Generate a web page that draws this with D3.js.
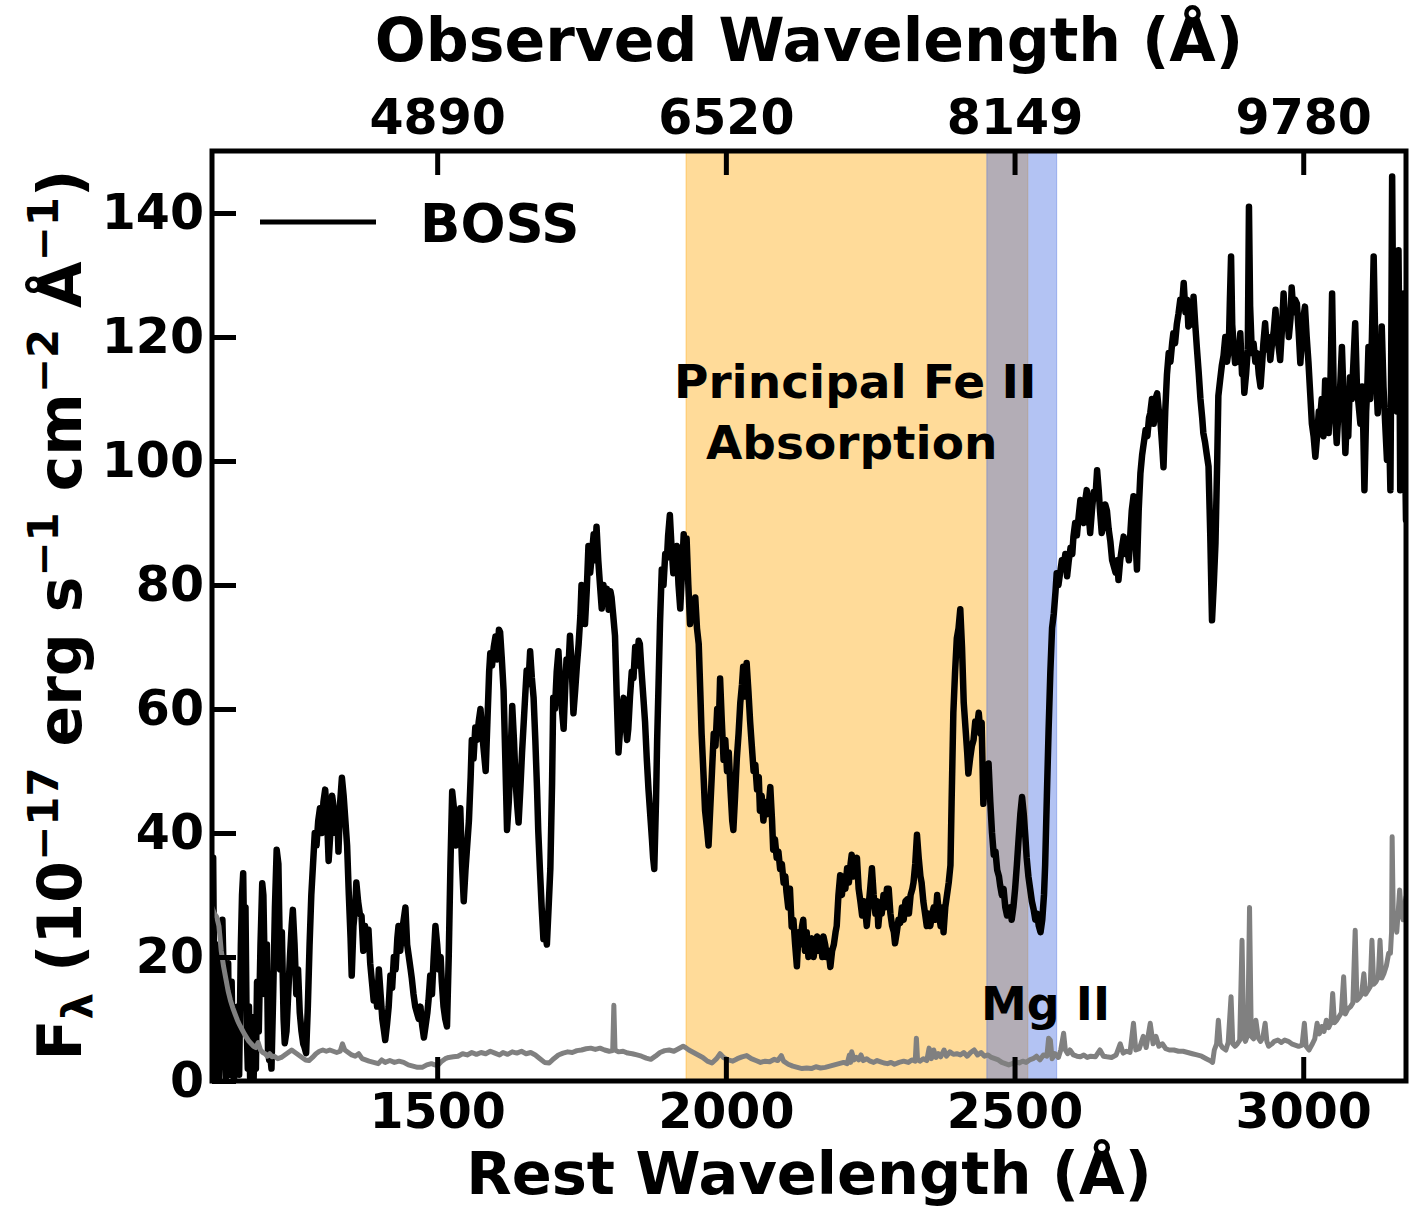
<!DOCTYPE html>
<html>
<head>
<meta charset="utf-8">
<script src="https://cdn.jsdelivr.net/npm/d3@7"></script>
<style>
  body { margin: 0; background: #fff; }
  text { font-family: 'DejaVu Sans', sans-serif; font-weight: bold; white-space: pre; }
</style>
</head>
<body>
<svg id="chart" width="1414" height="1211"></svg>
<script>
// ---------------- data ----------------
const restRange = [1110, 3178];
const fluxRange = [0, 150];
const restTicks = [1500, 2000, 2500, 3000];
const observedTickLabels = ["4890", "6520", "8149", "9780"];
const fluxTicks = [0, 20, 40, 60, 80, 100, 120, 140];
const feIIRegion = [1931, 2523];
const mgIIRegion = [2452, 2573];

// BOSS spectrum: [rest wavelength (Å), flux]
const bossSpectrum = [
[1110,30],[1112,36],[1114,12],[1116,0.5],[1118,22],[1120,8],[1122,0],[1124,15],[1126,3],[1128,26],
[1130,18],[1132,6],[1134,0.5],[1136,14],[1138,19],[1140,1],[1142,8],[1144,16],[1146,4],[1148,0],
[1150,10],[1152,3],[1155,12],[1157,1],[1160,22],[1162,30],[1164,33.5],[1166,20],[1168,28],[1170,9],
[1172,2],[1174,12],[1176,0.5],[1178,6],[1180,10.3],[1182,0],[1184,8],[1186,2],[1188,16],[1191,8],
[1194,22],[1197,31.9],[1199,30],[1202,14],[1205,22],[1207,5],[1209,3.4],[1211,4],[1213,2],[1216,14],
[1219,28],[1222,37.3],[1225,35],[1228,18],[1231,24],[1234,10],[1236,6.1],[1239,8],[1242,14],[1245,20],
[1248,25],[1250,27.6],[1253,22],[1256,14],[1259,18],[1262,11],[1265,8],[1268,6],[1270,5.5],[1273,4.5],
[1276,12],[1279,22],[1282,30],[1285,35],[1288,40],[1291,38],[1294,42],[1297,44],[1300,40],[1303,45],
[1306,47],[1309,43],[1312,35.5],[1315,40],[1318,46],[1321,44],[1324,40],[1327,43],[1329,37],[1332,45],
[1335,48.9],[1338,46],[1341,42],[1344,38],[1347,30],[1350,23],[1352,17],[1355,25],[1358,28],[1360,32],
[1363,29],[1366,27],[1369,26.6],[1372,21],[1375,25],[1378,22],[1381,24.4],[1384,19],[1387,16],[1390,13],
[1393,15],[1396,12],[1399,18],[1402,14],[1405,10],[1408,8],[1410,6.6],[1413,9],[1416,12],[1419,17],
[1422,15],[1425,20],[1428,18],[1431,23],[1433,25],[1436,21],[1439,24],[1442,26],[1445,28],[1448,22],
[1451,20],[1454,18],[1456,16.6],[1459,14],[1462,12],[1465,11],[1468,10],[1471,12],[1474,9],[1477,7],
[1480,9],[1483,11],[1485,13],[1488,17],[1491,14],[1494,20],[1497,25],[1500,22],[1503,18],[1506,20],
[1508,16],[1511,12],[1514,10],[1517,8.8],[1520,20],[1523,35],[1526,46.7],[1529,44],[1532,38],[1535,42],
[1538,40],[1540,44],[1543,35],[1546,29],[1549,34],[1552,38],[1555,42],[1558,49],[1560,55],[1563,52],
[1566,57],[1569,55],[1572,58],[1575,60],[1578,56],[1581,53],[1584,50],[1587,58],[1590,66],[1592,69],
[1595,67],[1598,70],[1601,71.7],[1604,68],[1607,72.8],[1609,72.4],[1612,68],[1615,63],[1618,52],[1621,40.5],
[1624,45],[1627,52],[1630,60.5],[1633,55],[1636,48],[1639,44],[1641,41.7],[1644,47],[1647,53],[1650,58],
[1653,63],[1655,66.2],[1658,64],[1661,69.3],[1664,65],[1667,61.8],[1670,55],[1673,47],[1675,40.5],[1678,34],
[1681,28],[1684,22.9],[1687,24],[1690,22],[1693,28],[1696,34.2],[1699,48],[1701,61.8],[1704,60],[1707,66],
[1710,69.3],[1713,64],[1716,60],[1719,56.8],[1722,64],[1724,68],[1727,66],[1730,71.8],[1733,67],[1736,59.3],
[1739,63],[1742,67],[1745,70.5],[1748,75],[1750,80],[1753,77],[1756,73.7],[1759,79],[1762,86.3],[1765,82],
[1768,85],[1771,88.2],[1773,84],[1776,89.4],[1779,84],[1782,80],[1785,76.2],[1788,80],[1791,77],[1794,79.4],
[1797,76],[1800,79],[1802,78],[1805,75],[1808,71.8],[1811,62],[1814,53],[1817,57],[1820,60],[1823,61.8],
[1826,58],[1829,55],[1831,56.8],[1834,62],[1837,66],[1840,65],[1843,70],[1846,67],[1849,71],[1851,70.5],
[1854,66],[1857,62],[1860,58],[1863,52],[1866,47],[1869,43],[1872,39],[1874,36],[1876,34.2],[1879,45],
[1881,55],[1883,62.4],[1886,74],[1889,82.5],[1892,80],[1895,85],[1898,84.4],[1900,88],[1903,91.3],[1906,86],
[1909,81.9],[1912,84],[1915,86.3],[1918,80],[1921,76.2],[1924,82],[1927,88.2],[1930,84],[1932,87.5],[1935,80],
[1938,73.7],[1941,77],[1944,75],[1947,78],[1950,73],[1953,70.5],[1956,62],[1958,56],[1961,50],[1964,43.6],
[1967,41],[1970,38],[1973,44],[1976,50],[1979,56],[1982,54],[1985,60],[1988,58],[1990,64.9],[1993,58],
[1996,51.8],[1999,55],[2002,50],[2005,53],[2008,47],[2011,42],[2013,40.5],[2016,46],[2019,52],[2022,56],
[2025,61],[2028,64],[2030,66.8],[2033,62],[2036,67.4],[2039,63],[2042,58],[2045,54],[2048,50],[2051,51],
[2054,47],[2057,49],[2059,43.6],[2062,46],[2065,42],[2068,45],[2071,43],[2074,44],[2077,47.4],[2080,42],
[2082,37.3],[2085,39],[2088,36],[2091,37],[2094,34.2],[2097,35],[2100,32],[2103,33],[2105,30.5],[2108,28],
[2111,31],[2114,24.9],[2117,26],[2120,22],[2123,18.5],[2126,24],[2129,22],[2132,25],[2134,26],[2137,21],
[2140,24],[2143,20],[2146,21.6],[2149,23],[2152,20],[2155,22],[2158,23.3],[2161,21],[2164,23],[2167,20],
[2169,23.3],[2172,22],[2175,20],[2178,21],[2181,18.4],[2184,21],[2187,22],[2190,24],[2192,25],[2195,30],
[2198,33.2],[2201,30],[2204,33],[2207,31],[2210,34.3],[2213,32],[2216,35],[2218,36.5],[2221,33],[2224,35],
[2227,36],[2230,31],[2233,29],[2236,26.7],[2239,29],[2242,27],[2244,25],[2247,28],[2250,31],[2253,34.3],
[2256,30],[2259,27],[2262,29],[2264,25],[2267,28],[2270,27],[2273,30],[2276,28],[2279,31],[2282,31],
[2285,27],[2288,25],[2291,24],[2293,22.2],[2296,24],[2299,26],[2302,25.5],[2305,28],[2308,26],[2311,29],
[2314,29.3],[2317,27],[2320,30],[2323,31],[2325,32],[2328,35],[2331,39.7],[2334,36],[2337,33],[2339,32],
[2342,29],[2345,27],[2348,25],[2351,27],[2354,25],[2357,26.7],[2360,28],[2363,26],[2366,30],[2369,27],
[2372,25],[2375,28],[2377,24],[2380,28],[2383,30],[2386,32],[2389,34.8],[2391,45],[2394,59.4],[2397,66],
[2400,71.4],[2403,73],[2406,76.1],[2409,70],[2412,61],[2415,57],[2418,53],[2420,49.6],[2423,52],[2426,54],
[2429,55],[2432,58],[2435,57],[2438,59.4],[2441,56],[2443,57.8],[2446,44.7],[2449,50],[2452,49],[2455,51.2],
[2458,45],[2461,40],[2464,36.5],[2467,37],[2470,34],[2473,33],[2475,31.6],[2478,30],[2481,31],[2484,28],
[2487,26.7],[2490,27],[2493,28],[2495,26],[2498,28],[2501,31],[2504,34.8],[2507,39],[2510,43],[2513,45.8],
[2516,43],[2519,39],[2521,36],[2524,33],[2527,31],[2530,29],[2533,27.7],[2536,26],[2539,27],[2542,25],
[2545,24],[2548,26],[2551,30],[2553,34.8],[2556,46],[2559,56.7],[2562,66],[2565,73.1],[2568,75.4],[2571,79],
[2573,81.9],[2576,80],[2579,82],[2582,84],[2585,83],[2588,85],[2591,81.4],[2594,84],[2597,86],[2600,85],
[2602,87.8],[2605,90],[2608,88],[2611,91],[2614,93.7],[2617,92],[2620,90],[2623,94],[2625,95.3],[2628,92],
[2631,88.4],[2634,92],[2637,95],[2640,94],[2643,98.5],[2646,95],[2648,92],[2651,88.4],[2654,90],[2657,93],
[2660,92],[2663,89],[2666,87],[2669,84],[2672,83],[2675,82],[2678,84],[2680,80.8],[2683,84],[2686,86],
[2689,87.8],[2692,85],[2695,86],[2698,84],[2701,89],[2703,92],[2706,94.3],[2709,88],[2712,82.5],[2715,92],
[2718,98],[2721,101],[2724,103],[2727,105],[2730,104],[2733,107],[2735,107.7],[2738,110],[2741,106],[2744,110],
[2747,110.9],[2750,108],[2753,106],[2756,102],[2758,99],[2761,108],[2764,114],[2767,117.4],[2770,116],[2773,119],
[2775,120.6],[2778,119],[2781,122],[2784,123.8],[2787,126],[2790,125],[2793,128.7],[2796,124],[2799,126],[2801,121.7],
[2804,124],[2807,122],[2810,126.5],[2813,122],[2816,118],[2819,114.2],[2822,110],[2825,107],[2827,104.5],[2830,103],
[2833,101],[2836,99.1],[2839,88],[2842,74.3],[2845,80],[2848,86.7],[2851,100],[2853,110.5],[2856,113],[2859,115.4],
[2862,117],[2865,120],[2868,116],[2871,118],[2873,126],[2875,133],[2877,122],[2880,118],[2882,115.8],[2885,117],
[2888,116],[2891,120.6],[2894,114],[2896,116],[2898,111],[2901,114],[2904,118],[2906,141],[2908,125],[2911,117.4],
[2914,119],[2917,116],[2920,117.4],[2923,114],[2926,112],[2929,116],[2931,119],[2934,122.2],[2937,118],[2940,120],
[2943,116.3],[2946,119],[2949,121],[2952,124.4],[2955,120],[2958,118],[2960,116.3],[2963,121],[2966,127],[2969,122],
[2972,124],[2975,120],[2978,123],[2980,128],[2983,124],[2986,126],[2989,125.4],[2992,121],[2995,115.8],[2998,120],
[3000,123],[3003,124.9],[3006,120],[3009,116],[3012,111],[3015,106],[3018,104],[3021,100.7],[3024,104],[3027,108],
[3029,106.6],[3032,110],[3035,104],[3038,113],[3041,108],[3044,104.5],[3047,112],[3050,127],[3053,110],[3056,106],
[3058,102.9],[3061,108],[3064,112],[3067,118.4],[3070,110],[3073,101.3],[3076,108],[3078,104],[3081,113.5],[3084,110],
[3087,116],[3090,122.2],[3093,112],[3096,109],[3099,106],[3102,112],[3104,105],[3106,95.3],[3109,108],[3111,112],
[3113,118.4],[3116,110],[3119,120],[3122,133],[3125,118],[3127,112],[3129,107.7],[3132,114],[3134,110],[3136,121.7],
[3139,112],[3142,106],[3145,100.2],[3148,108],[3151,95.3],[3152,110],[3154,145.9],[3156,120],[3159,116.3],[3162,108],
[3165,134],[3167,112],[3168,95.3],[3170,118],[3172,110],[3174,127],[3176,104],[3178,90.5]
];

// Flux error spectrum: [rest wavelength (Å), error]
const bossError = [
[1110,28],[1114,27],[1118,26.5],[1122,25],[1126,21],[1130,18.5],[1134,16.5],[1138,14.5],[1142,13],[1146,11.8],
[1150,10.8],[1154,9.8],[1158,9],[1162,8.3],[1166,7.6],[1170,7],[1174,6.4],[1178,6.0],[1182,5.6],[1186,5.4],
[1190,6.2],[1194,5.0],[1198,4.6],[1202,4.4],[1206,4.0],[1210,4.4],[1214,3.9],[1218,4.0],[1224,3.6],[1230,3.8],
[1236,4.2],[1242,4.6],[1248,5.0],[1254,4.6],[1260,4.2],[1266,3.8],[1272,3.4],[1278,3.3],[1284,3.8],[1290,4.4],
[1296,4.8],[1302,5.0],[1308,4.8],[1314,5.0],[1320,4.8],[1326,4.6],[1332,4.8],[1336,6.0],[1340,5.0],[1346,4.6],
[1352,4.2],[1358,4.0],[1364,4.4],[1370,3.6],[1376,3.4],[1382,3.2],[1390,3.0],[1398,2.8],[1404,3.4],[1410,3.0],
[1418,3.3],[1426,3.0],[1434,3.2],[1442,3.0],[1450,2.6],[1458,2.4],[1466,2.2],[1474,2.2],[1482,2.6],[1490,2.8],
[1496,2.6],[1502,2.6],[1508,3.2],[1514,3.6],[1520,3.8],[1528,3.9],[1536,4.0],[1544,4.4],[1552,4.2],[1560,4.6],
[1568,4.3],[1576,4.6],[1584,4.4],[1592,4.8],[1600,4.5],[1608,4.2],[1614,4.6],[1622,4.3],[1630,4.7],[1638,4.5],
[1646,4.8],[1654,4.4],[1662,4.6],[1670,4.2],[1678,3.6],[1686,3.0],[1694,2.9],[1702,3.6],[1710,4.2],[1718,4.5],
[1726,4.7],[1734,4.6],[1742,4.9],[1750,5.0],[1758,5.2],[1766,5.3],[1774,5.1],[1782,5.3],[1790,5.0],[1798,4.8],
[1804,4.9],[1806,12.2],[1808,5.0],[1814,4.7],[1822,4.8],[1830,4.5],[1838,4.4],[1846,4.2],[1854,4.0],[1862,3.7],
[1870,3.5],[1878,4.0],[1886,4.6],[1894,4.9],[1902,5.0],[1910,4.8],[1918,5.2],[1926,5.6],[1930,5.4],[1936,5.0],
[1944,4.6],[1952,4.2],[1960,3.8],[1968,3.2],[1976,2.9],[1984,3.6],[1990,4.4],[1996,3.8],[2004,3.4],[2012,3.2],
[2020,3.6],[2028,3.9],[2036,4.1],[2044,3.6],[2052,3.3],[2060,3.0],[2068,3.2],[2076,3.1],[2084,3.5],[2090,3.3],
[2096,4.1],[2100,3.2],[2108,2.7],[2116,2.4],[2124,2.2],[2132,2.0],[2140,2.1],[2148,2.0],[2156,2.3],[2164,2.1],
[2172,2.2],[2180,2.4],[2188,2.6],[2196,2.8],[2204,3.0],[2210,2.8],[2214,4.2],[2216,3.0],[2218,4.7],[2222,3.4],
[2226,3.8],[2230,3.4],[2234,4.2],[2238,3.3],[2244,3.6],[2250,3.2],[2256,3.0],[2262,3.3],[2268,3.1],[2274,2.9],
[2280,2.8],[2286,3.0],[2292,2.7],[2300,3.0],[2308,3.2],[2316,3.0],[2322,3.4],[2328,3.2],[2330,6.9],[2332,3.4],
[2336,3.2],[2342,3.6],[2348,3.3],[2352,5.3],[2356,3.6],[2360,5.0],[2364,3.8],[2368,4.4],[2372,3.9],[2378,5.0],
[2382,4.0],[2388,4.7],[2394,4.3],[2400,4.4],[2406,4.2],[2412,4.6],[2418,4.0],[2424,4.6],[2430,5.0],[2436,4.2],
[2442,4.6],[2448,4.0],[2454,4.2],[2460,3.8],[2466,3.6],[2472,3.4],[2478,3.0],[2484,2.8],[2490,2.6],[2496,2.8],
[2502,3.1],[2508,2.9],[2514,3.2],[2520,3.0],[2526,3.4],[2532,3.6],[2538,4.0],[2544,3.4],[2550,4.2],[2556,4.0],
[2559,6.9],[2562,6.6],[2565,3.6],[2570,4.4],[2576,3.8],[2580,5.0],[2585,7.7],[2588,5.0],[2592,4.4],[2596,5.0],
[2602,4.2],[2608,4.0],[2614,3.9],[2620,4.2],[2626,3.8],[2632,4.0],[2640,3.9],[2648,5.0],[2654,4.0],[2660,3.9],
[2668,3.8],[2676,4.2],[2683,6.0],[2688,4.5],[2694,4.8],[2700,4.6],[2706,9.3],[2710,5.0],[2716,5.2],[2723,7.2],
[2728,5.4],[2735,9.3],[2740,6.0],[2745,7.2],[2750,5.6],[2756,6.0],[2762,5.2],[2768,5.0],[2776,5.0],[2784,4.8],
[2792,4.8],[2800,4.6],[2808,4.4],[2816,4.2],[2824,4.0],[2832,3.6],[2840,3.2],[2843,3.0],[2846,5.0],[2850,6.0],
[2853,9.8],[2856,6.0],[2860,5.4],[2866,5.0],[2870,6.2],[2875,13.6],[2878,6.0],[2882,5.6],[2886,6.0],[2890,6.6],
[2894,22.7],[2897,7.0],[2900,6.4],[2904,7.5],[2907,28],[2910,7.2],[2914,6.8],[2918,9.8],[2922,7.0],[2926,6.4],
[2930,7.0],[2934,9.3],[2937,6.4],[2940,5.6],[2946,6.0],[2950,6.4],[2956,6.6],[2962,6.2],[2968,6.6],[2974,6.4],
[2980,6.0],[2986,5.8],[2992,5.6],[2998,5.8],[3002,9.3],[3005,5.6],[3010,5.0],[3016,6.0],[3020,6.8],[3024,9.3],
[3028,7.6],[3032,8.8],[3036,8.0],[3040,9.8],[3044,8.6],[3048,9.4],[3051,14.1],[3054,9.4],[3058,9.8],[3062,10.4],
[3066,11.0],[3070,16.8],[3073,10.8],[3077,11.6],[3082,12.0],[3086,12.6],[3090,24.3],[3093,13.0],[3097,13.4],[3101,14.0],
[3105,17.3],[3108,14.0],[3112,14.6],[3116,15.2],[3119,22.7],[3122,15.6],[3126,16.0],[3130,16.8],[3133,22.7],[3136,16.6],
[3140,17.4],[3144,18.6],[3148,20.6],[3151,20.6],[3153,24],[3154,39.4],[3156,26],[3159,26],[3162,24],[3165,28],
[3167,30.8],[3170,27],[3173,26],[3175,28],[3178,29.7]
];

// ---------------- drawing ----------------
const svg = d3.select('#chart');
const plot = { left: 212, right: 1406, top: 151, bottom: 1081 };

const x = d3.scaleLinear().domain(restRange).range([plot.left, plot.right]);
const y = d3.scaleLinear().domain(fluxRange).range([plot.bottom, plot.top]);

svg.append('rect').attr('width', 1414).attr('height', 1211).attr('fill', '#fff');

svg.append('defs').append('clipPath').attr('id', 'clip')
  .append('rect')
  .attr('x', plot.left).attr('y', plot.top)
  .attr('width', plot.right - plot.left).attr('height', plot.bottom - plot.top);

const g = svg.append('g').attr('clip-path', 'url(#clip)');

// shaded regions
g.append('rect')
  .attr('x', x(feIIRegion[0])).attr('width', x(feIIRegion[1]) - x(feIIRegion[0]))
  .attr('y', plot.top).attr('height', plot.bottom - plot.top)
  .attr('fill', 'orange').attr('fill-opacity', 0.4)
  .attr('stroke', 'orange').attr('stroke-opacity', 0.4).attr('stroke-width', 1);
g.append('rect')
  .attr('x', x(mgIIRegion[0])).attr('width', x(mgIIRegion[1]) - x(mgIIRegion[0]))
  .attr('y', plot.top).attr('height', plot.bottom - plot.top)
  .attr('fill', 'royalblue').attr('fill-opacity', 0.4)
  .attr('stroke', 'royalblue').attr('stroke-opacity', 0.4).attr('stroke-width', 1);

const line = d3.line().x(d => x(d[0])).y(d => y(d[1]));

g.append('path').datum(bossSpectrum)
  .attr('d', line).attr('fill', 'none')
  .attr('stroke', '#000').attr('stroke-width', 6.5)
  .attr('stroke-linejoin', 'round').attr('stroke-linecap', 'round');

g.append('path').datum(bossError)
  .attr('d', line).attr('fill', 'none')
  .attr('stroke', '#808080').attr('stroke-width', 5)
  .attr('stroke-linejoin', 'round').attr('stroke-linecap', 'round');

// axes
function styleAxis(sel, fs) {
  sel.select('.domain').remove();
  sel.attr('font-family', 'DejaVu Sans').attr('font-size', fs).attr('font-weight', 'bold');
  sel.selectAll('.tick line').attr('stroke', '#000').attr('stroke-width', 5);
  sel.selectAll('.tick text').attr('fill', '#000');
}

svg.append('g').attr('transform', `translate(0,${plot.bottom})`)
  .call(d3.axisBottom(x).tickValues(restTicks).tickSize(-24).tickPadding(12).tickFormat(d3.format('d')))
  .call(s => styleAxis(s, 49));

svg.append('g').attr('transform', `translate(0,${plot.top})`)
  .call(d3.axisTop(x).tickValues(restTicks).tickSize(-24).tickPadding(17)
    .tickFormat((d, i) => observedTickLabels[i]))
  .call(s => styleAxis(s, 49));

svg.append('g').attr('transform', `translate(${plot.left},0)`)
  .call(d3.axisLeft(y).tickValues(fluxTicks).tickSize(-24).tickPadding(8).tickFormat(d3.format('d')))
  .call(s => styleAxis(s, 49));

// frame
svg.append('rect')
  .attr('x', plot.left).attr('y', plot.top)
  .attr('width', plot.right - plot.left).attr('height', plot.bottom - plot.top)
  .attr('fill', 'none').attr('stroke', '#000').attr('stroke-width', 5);

// axis titles
const midX = (plot.left + plot.right) / 2;
svg.append('text').attr('x', midX).attr('y', 1194)
  .attr('text-anchor', 'middle').attr('font-size', 59).text('Rest Wavelength (Å)');
svg.append('text').attr('x', midX).attr('y', 61)
  .attr('text-anchor', 'middle').attr('font-size', 60).text('Observed Wavelength (Å)');

const yl = svg.append('text')
  .attr('transform', `translate(81,${(plot.top + plot.bottom) / 2 - 1}) rotate(-90)`)
  .attr('text-anchor', 'middle').attr('font-size', 60);
const yParts = [
  ['F', 60, 0], ['λ', 42, 12], [' (10', 60, -12], ['−17', 42, -23],
  [' erg s', 60, 23], ['−1', 42, -23], [' cm', 60, 23], ['−2', 42, -23],
  [' Å', 60, 23], ['−1', 42, -23], [')', 60, 23]
];
yParts.forEach(p => yl.append('tspan').attr('font-size', p[1]).attr('dy', p[2]).text(p[0]));

// legend
svg.append('line').attr('x1', 260).attr('x2', 376).attr('y1', 222).attr('y2', 222)
  .attr('stroke', '#000').attr('stroke-width', 5);
svg.append('text').attr('x', 420).attr('y', 242).attr('font-size', 53).text('BOSS');

// annotations
const ann = svg.append('text').attr('text-anchor', 'middle').attr('font-size', 47);
ann.append('tspan').attr('x', x(2224)).attr('y', y(110.2)).text('Principal Fe II');
ann.append('tspan').attr('x', x(2218)).attr('y', y(100.3)).text('Absorption');

svg.append('text').attr('x', x(2442)).attr('y', y(9.8)).attr('font-size', 46).text('Mg II');
</script>
</body>
</html>
